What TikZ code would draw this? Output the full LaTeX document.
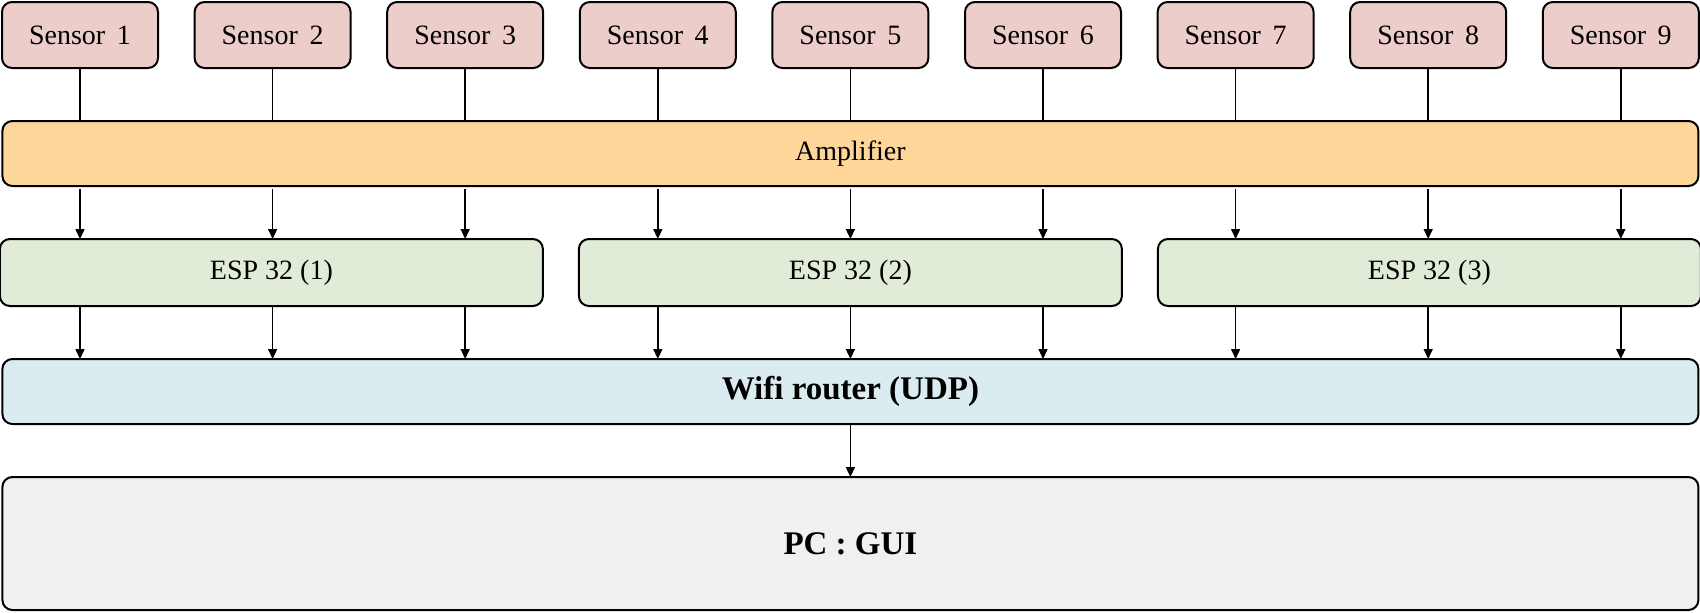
\documentclass[tikz,border=0pt]{standalone}
\usepackage{fontspec}
\setmainfont{Liberation Serif}
\usepackage{xcolor}
\usepackage{tikz}
\usetikzlibrary{positioning}
\usetikzlibrary{arrows.meta}

\definecolor{sensorfill}{RGB}{237,205,202}
\definecolor{ampfill}{RGB}{254,214,154}
\definecolor{espfill}{RGB}{224,236,216}
\definecolor{wififill}{RGB}{219,236,240}
\definecolor{pcfill}{RGB}{240,240,240}

\tikzset{
	box/.style={rectangle,draw,line width=1pt,rounded corners=5pt,outer sep=0pt,inner sep=0pt},
	sensor/.style={box,fill=sensorfill,minimum width=78pt,minimum height=33pt,font=\fontsize{14}{16}\selectfont},
	amp/.style={box,fill=ampfill,minimum width=848pt,minimum height=32.5pt,font=\fontsize{14}{16}\selectfont},
	esp/.style={box,fill=espfill,minimum width=271.5pt,minimum height=33.5pt,font=\fontsize{14}{16}\selectfont},
	wifi/.style={box,fill=wififill,minimum width=848pt,minimum height=32.5pt,font=\fontsize{16.5}{19}\selectfont\bfseries},
	pc/.style={box,fill=pcfill,minimum width=848pt,minimum height=66.5pt,font=\fontsize{16.5}{19}\selectfont\bfseries},
	wire/.style={line width=0.75pt},
	arr/.style={line width=0.75pt,-{Triangle[length=5pt,width=4.5pt]}}
}

\begin{document}
\begin{tikzpicture}[x=0.5pt,y=-0.5pt]
		\useasboundingbox (0,0) rectangle (1700,612);
		\node[sensor] at (80,35) (s1) {Sensor\, 1};
		\node[sensor, right=18.3pt of s1] (s2) {Sensor\, 2};
		\node[sensor, right=18.3pt of s2] (s3) {Sensor\, 3};
		\node[sensor, right=18.3pt of s3] (s4) {Sensor\, 4};
		\node[sensor, right=18.3pt of s4] (s5) {Sensor\, 5};
		\node[sensor, right=18.3pt of s5] (s6) {Sensor\, 6};
		\node[sensor, right=18.3pt of s6] (s7) {Sensor\, 7};
		\node[sensor, right=18.3pt of s7] (s8) {Sensor\, 8};
		\node[sensor, right=18.3pt of s8] (s9) {Sensor\, 9};
		
		\node[amp, below=26.5pt of s5] (amp) {Amplifier};
		\node[esp, below=26.5pt of amp] (esp2) {ESP 32 (2)};
		\node[esp, left=18pt of esp2] (esp1) {ESP 32 (1)};
		\node[esp, right=18pt of esp2] (esp3) {ESP 32 (3)};
		\node[wifi, below=26.5pt of esp2] (wifi) {Wifi router (UDP)};
		\node[pc, below=26.5pt of wifi] (pc) {PC : GUI};
		
		% sensors -> amplifier
		\draw[wire] (s1.south) -- (s1.south |- amp.north);
		\draw[wire] (s2.south) -- (s2.south |- amp.north);
		\draw[wire] (s3.south) -- (s3.south |- amp.north);
		\draw[wire] (s4.south) -- (s4.south |- amp.north);
		\draw[wire] (s5.south) -- (s5.south |- amp.north);
		\draw[wire] (s6.south) -- (s6.south |- amp.north);
		\draw[wire] (s7.south) -- (s7.south |- amp.north);
		\draw[wire] (s8.south) -- (s8.south |- amp.north);
		\draw[wire] (s9.south) -- (s9.south |- amp.north);
		
		% amplifier -> ESP 32
		\draw[arr, shorten <=1.5pt] (s1 |- amp.south) -- (s1 |- esp1.north);
		\draw[arr, shorten <=1.5pt] (s2 |- amp.south) -- (s2 |- esp1.north);
		\draw[arr, shorten <=1.5pt] (s3 |- amp.south) -- (s3 |- esp1.north);
		\draw[arr, shorten <=1.5pt] (s4 |- amp.south) -- (s4 |- esp2.north);
		\draw[arr, shorten <=1.5pt] (s5 |- amp.south) -- (s5 |- esp2.north);
		\draw[arr, shorten <=1.5pt] (s6 |- amp.south) -- (s6 |- esp2.north);
		\draw[arr, shorten <=1.5pt] (s7 |- amp.south) -- (s7 |- esp3.north);
		\draw[arr, shorten <=1.5pt] (s8 |- amp.south) -- (s8 |- esp3.north);
		\draw[arr, shorten <=1.5pt] (s9 |- amp.south) -- (s9 |- esp3.north);
		
		% ESP 32 -> router
		\draw[arr, shorten <=0.5pt] (s1 |- esp1.south) -- (s1 |- wifi.north);
		\draw[arr, shorten <=0.5pt] (s2 |- esp1.south) -- (s2 |- wifi.north);
		\draw[arr, shorten <=0.5pt] (s3 |- esp1.south) -- (s3 |- wifi.north);
		\draw[arr, shorten <=0.5pt] (s4 |- esp2.south) -- (s4 |- wifi.north);
		\draw[arr, shorten <=0.5pt] (s5 |- esp2.south) -- (s5 |- wifi.north);
		\draw[arr, shorten <=0.5pt] (s6 |- esp2.south) -- (s6 |- wifi.north);
		\draw[arr, shorten <=0.5pt] (s7 |- esp3.south) -- (s7 |- wifi.north);
		\draw[arr, shorten <=0.5pt] (s8 |- esp3.south) -- (s8 |- wifi.north);
		\draw[arr, shorten <=0.5pt] (s9 |- esp3.south) -- (s9 |- wifi.north);
		
		\draw[arr] (wifi) -- (pc);
\end{tikzpicture}
\end{document}
